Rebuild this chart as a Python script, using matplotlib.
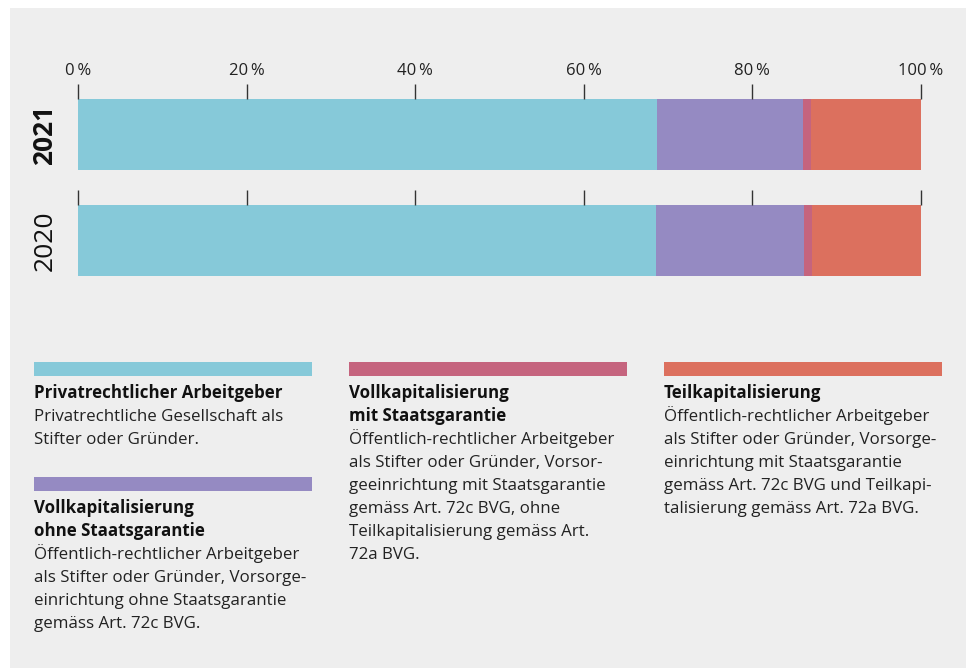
import matplotlib.pyplot as plt
from matplotlib.patches import Rectangle

plt.rcParams['font.family'] = ['Open Sans', 'DejaVu Sans']

# shares per year (percent)
years = ['2021', '2020']
privat = [68.7, 68.6]
voll_ohne = [17.3, 17.5]
voll_mit = [0.95, 1.0]
teil = [13.05, 12.9]

tick_vals = [0, 20, 40, 60, 80, 100]
tick_labels = ['0\u2009%', '20\u2009%', '40\u2009%', '60\u2009%', '80\u2009%', '100\u2009%']

colors = ['#86c9d9', '#958ac2', '#c5647e', '#dc705e']
bg = '#eeeeee'

W, H = 966, 668
fig = plt.figure(figsize=(W / 100, H / 100), dpi=100)
fig.patch.set_facecolor('white')
fig.patches.append(Rectangle((10 / W, 0), 1, 1 - 8 / H, transform=fig.transFigure,
                             facecolor=bg, edgecolor='none', zorder=-10))


def px_axes(x0, y0, x1, y1):
    # axes placed by pixel box (top-left origin)
    return fig.add_axes([x0 / W, 1 - y1 / H, (x1 - x0) / W, (y1 - y0) / H])


series = [privat, voll_ohne, voll_mit, teil]
bar_boxes = [(99, 170), (205, 276)]
for i, (year, (top, bottom)) in enumerate(zip(years, bar_boxes)):
    ax = px_axes(78, top, 921, bottom)
    ax.set_facecolor('none')
    left = 0
    for vals, c in zip(series, colors):
        ax.barh(0, vals[i], left=left, height=1, color=c, edgecolor='none')
        left += vals[i]
    ax.set_xlim(0, 100)
    ax.set_ylim(-0.5, 0.5)
    for s in ax.spines.values():
        s.set_visible(False)
    ax.set_yticks([])
    ax.xaxis.tick_top()
    ax.set_xticks(tick_vals)
    ax.tick_params(axis='x', direction='out', length=10.5, width=1.0, color='#333333', pad=4,
                   labelsize=12, labelcolor='#222222', bottom=False)
    if i == 0:
        ax.set_xticklabels(tick_labels)
    else:
        ax.set_xticklabels([])
    fig.text(45 / W, 1 - (top + bottom) / 2 / H, year, rotation=90, ha='center', va='center',
             fontsize=19, color='#111111', fontweight='bold' if i == 0 else 'normal')

# legend blocks: (x, strip top, colour, bold lines, body lines)
legend = [
    (34, 362, colors[0], ['Privatrechtlicher Arbeitgeber'],
     ['Privatrechtliche Gesellschaft als', 'Stifter oder Gründer.']),
    (34, 477, colors[1], ['Vollkapitalisierung', 'ohne Staatsgarantie'],
     ['Öffentlich-rechtlicher Arbeitgeber', 'als Stifter oder Gründer, Vorsorge-',
      'einrichtung ohne Staatsgarantie', 'gemäss Art. 72c BVG.']),
    (349, 362, colors[2], ['Vollkapitalisierung', 'mit Staatsgarantie'],
     ['Öffentlich-rechtlicher Arbeitgeber', 'als Stifter oder Gründer, Vorsor-',
      'geeinrichtung mit Staatsgarantie', 'gemäss Art. 72c BVG, ohne',
      'Teilkapitalisierung gemäss Art.', '72a BVG.']),
    (664, 362, colors[3], ['Teilkapitalisierung'],
     ['Öffentlich-rechtlicher Arbeitgeber', 'als Stifter oder Gründer, Vorsorge-',
      'einrichtung mit Staatsgarantie', 'gemäss Art. 72c BVG und Teilkapi-',
      'talisierung gemäss Art. 72a BVG.']),
]
line_h = 23
fs = 12.2
for x, y, c, title, body in legend:
    fig.patches.append(Rectangle((x / W, 1 - (y + 14) / H), 278 / W, 14 / H,
                                 transform=fig.transFigure, facecolor=c, edgecolor='none'))
    base = y + 36
    for k, line in enumerate(title + body):
        bold = k < len(title)
        fig.text(x / W, 1 - (base + k * line_h) / H, line, ha='left', va='baseline',
                 fontsize=fs, fontweight='bold' if bold else 'normal',
                 color='#111111' if bold else '#222222')

fig.savefig('out.png', dpi=100)
